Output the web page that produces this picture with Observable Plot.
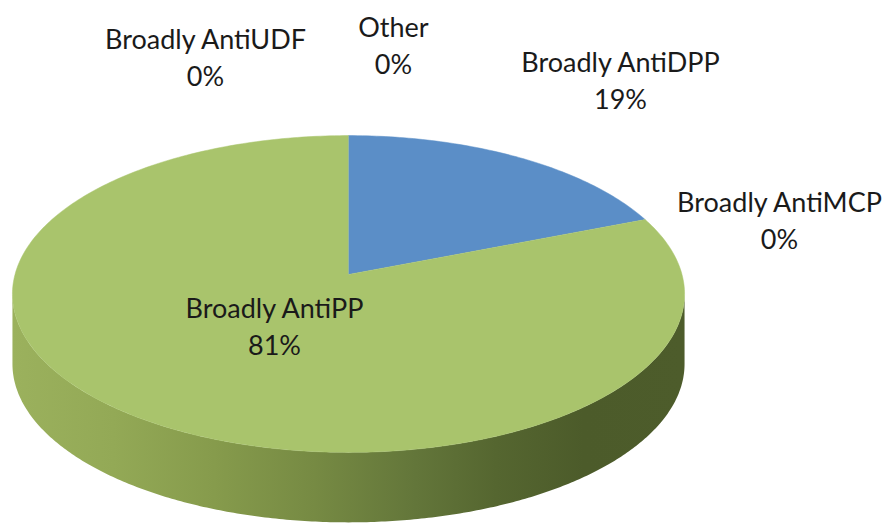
<!DOCTYPE html>
<html>
<head>
<meta charset="utf-8">
<script src="https://cdn.jsdelivr.net/npm/d3@7"></script>
<script src="https://cdn.jsdelivr.net/npm/@observablehq/plot@0.6"></script>
<style>
  html, body { margin: 0; padding: 0; background: #fff; }
  #chart svg { display: block; }
</style>
</head>
<body>
<div id="chart"></div>
<script>
// ---- Data ----
const categories = ["Broadly AntiDPP", "Broadly AntiMCP", "Broadly AntiPP", "Broadly AntiUDF", "Other"];
const values = [19, 0, 81, 0, 0];
const percentLabels = ["19%", "0%", "81%", "0%", "0%"];

// ---- Styles / layout (kept separate from data) ----
const sliceColors = ["#5b8ec7", "#c0504d", "#a9c46c", "#8064a2", "#4bacc6"];
const labelPos = [[620, 78], [779, 218], [274, 324], [205, 55], [393, 43]];
const W = 886, H = 527;
const geom = {cx: 348, cy: 274, A: 333.5, B: 156, k: 0.123, depth: 70};

// perspective projection of a point on the unit disc (t = fraction clockwise from 12 o'clock)
function proj(t, r = 1, dy = 0) {
  const a = 2 * Math.PI * t;
  const u = r * Math.sin(a), v = -r * Math.cos(a);
  const w = 1 - geom.k * v;
  return {x: geom.cx + geom.A * u / w, y: geom.cy + geom.B * v / w + dy};
}

const total = d3.sum(values);
const slices = [];
let acc = 0;
values.forEach((v, i) => {
  const t0 = acc / total, t1 = (acc + v) / total;
  acc += v;
  slices.push({name: categories[i], t0, t1, value: v, i});
});

// top-face polygons for each slice
const topPts = [];
slices.filter(s => s.value > 0).forEach(s => {
  topPts.push({key: s.name, ...proj(0, 0)});
  const n = Math.max(8, Math.ceil((s.t1 - s.t0) * 400));
  for (let j = 0; j <= n; j++) topPts.push({key: s.name, ...proj(s.t0 + (s.t1 - s.t0) * j / n)});
});

// side band (front, visible half)
const tR = (Math.PI / 2 + Math.asin(geom.k)) / (2 * Math.PI);
const tL = 1 - tR;
const sidePts = [];
const ns = 300;
for (let j = 0; j <= ns; j++) sidePts.push(proj(tR + (tL - tR) * j / ns));
for (let j = ns; j >= 0; j--) sidePts.push(proj(tR + (tL - tR) * j / ns, 1, geom.depth));

const labels = categories.map((c, i) => ({text: c + "\n" + percentLabels[i], x: labelPos[i][0], y: labelPos[i][1]}));

const defs = () => {
  const d = d3.create("svg:defs");
  const g = d.append("linearGradient").attr("id", "sideGrad")
    .attr("gradientUnits", "userSpaceOnUse")
    .attr("x1", 12).attr("x2", 684).attr("y1", 0).attr("y2", 0);
  [[0, "#9bb15d"], [0.15, "#93a956"], [0.3, "#869b4c"], [0.45, "#768a43"],
   [0.6, "#63763a"], [0.72, "#556630"], [0.85, "#4c5b2a"], [1, "#4d5c2b"]]
    .forEach(([o, c]) => g.append("stop").attr("offset", o).attr("stop-color", c));
  return d.node();
};

const chart = Plot.plot({
  width: W, height: H,
  margin: 0,
  x: {domain: [0, W], range: [0, W], axis: null},
  y: {domain: [0, H], range: [0, H], axis: null},
  style: {background: "#fff"},
  marks: [
    defs,
    Plot.line(sidePts, {x: "x", y: "y", fill: "url(#sideGrad)", stroke: "none", curve: "linear"}),
    ...slices.filter(s => s.value > 0).map(s =>
      Plot.line(topPts.filter(p => p.key === s.name), {x: "x", y: "y", fill: sliceColors[s.i], stroke: sliceColors[s.i], strokeWidth: 0.5})
    ),
    Plot.text(labels, {x: "x", y: "y", text: "text", fontSize: 27, lineHeight: 1.4,
      textAnchor: "middle", lineAnchor: "middle", fill: "#1a1a1a",
      fontFamily: "Lato, 'Open Sans', sans-serif"})
  ]
});
document.getElementById("chart").appendChild(chart);
</script>
</body>
</html>
